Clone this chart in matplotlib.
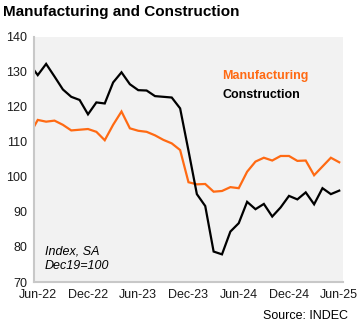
import matplotlib
matplotlib.use("Agg")
import matplotlib.pyplot as plt

# monthly index, May-22 .. Jun-25 (May-22 is cut off by the axis edge)
months = ["May-22", "Jun-22", "Jul-22", "Aug-22", "Sep-22", "Oct-22", "Nov-22", "Dec-22",
          "Jan-23", "Feb-23", "Mar-23", "Apr-23", "May-23", "Jun-23", "Jul-23", "Aug-23",
          "Sep-23", "Oct-23", "Nov-23", "Dec-23", "Jan-24", "Feb-24", "Mar-24", "Apr-24",
          "May-24", "Jun-24", "Jul-24", "Aug-24", "Sep-24", "Oct-24", "Nov-24", "Dec-24",
          "Jan-25", "Feb-25", "Mar-25", "Apr-25", "May-25", "Jun-25"]

manufacturing = [112.0, 116.3, 115.8, 116.1, 114.9, 113.3, 113.5, 113.7, 112.9, 110.5,
                 114.9, 118.7, 113.9, 113.2, 112.9, 111.9, 110.6, 109.6, 107.7, 98.5,
                 97.9, 98.0, 95.8, 96.0, 97.1, 96.8, 101.5, 104.4, 105.5, 104.7,
                 106.0, 106.0, 104.6, 104.7, 100.5, 103.0, 105.5, 104.2]

construction = [132.3, 129.1, 132.3, 128.7, 125.0, 122.9, 122.0, 117.9, 121.3, 121.0,
                127.0, 129.9, 126.5, 124.8, 124.7, 123.1, 122.9, 122.7, 119.6, 107.5,
                95.1, 91.7, 78.7, 77.9, 84.4, 86.8, 92.9, 90.8, 92.3, 88.7,
                91.3, 94.6, 93.6, 95.6, 92.2, 96.8, 95.1, 96.1]

tick_labels = ["Jun-22", "Dec-22", "Jun-23", "Dec-23", "Jun-24", "Dec-24", "Jun-25"]

plt.rcParams['font.family'] = ['Liberation Sans', 'DejaVu Sans']

fig = plt.figure(figsize=(3.6, 3.27), dpi=100)
ax = fig.add_axes([0.0944, 0.1376, 0.8586, 0.7494])
ax.set_facecolor("#F2F2F2")

x = list(range(-1, len(months) - 1))
ax.plot(x, manufacturing, color="#FF6A13", lw=1.6, solid_joinstyle="miter")
ax.plot(x, construction, color="black", lw=1.6, solid_joinstyle="miter")

ax.set_xlim(-0.45, 36.46)
ax.set_ylim(70, 140)
ax.set_yticks(range(70, 141, 10))
ax.set_xticks([months.index(t) - 1 for t in tick_labels])
ax.set_xticklabels(tick_labels)
ax.tick_params(length=0, labelsize=9, colors="#1a1a1a")
ax.tick_params(axis="y", pad=5)
ax.tick_params(axis="x", pad=5)

for s in ["top", "right"]:
    ax.spines[s].set_visible(False)
for s in ["left", "bottom"]:
    ax.spines[s].set_color("#C8C8C8")
    ax.spines[s].set_linewidth(1.5)

ax.text(0.61, 0.84, "Manufacturing", transform=ax.transAxes, color="#FF6A13",
        fontsize=9, fontweight="bold", va="center")
ax.text(0.61, 0.765, "Construction", transform=ax.transAxes, color="black",
        fontsize=9, fontweight="bold", va="center")

ax.text(0.035, 0.125, "Index, SA", transform=ax.transAxes, fontsize=9,
        style="italic", va="center")
ax.text(0.035, 0.065, "Dec19=100", transform=ax.transAxes, fontsize=9,
        style="italic", va="center")

fig.text(0.008, 0.963, "Manufacturing and Construction", fontsize=11,
         fontweight="bold", va="center")
fig.text(0.967, 0.034, "Source: INDEC", fontsize=9, ha="right", va="center")

fig.savefig("out.png", dpi=100)
